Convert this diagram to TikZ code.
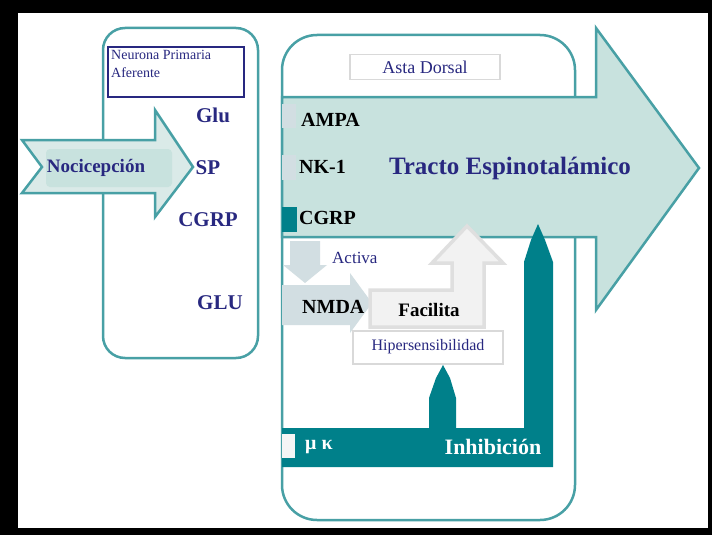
\documentclass[tikz,border=0pt]{standalone}
\usepackage{fontspec}
\setmainfont{Liberation Serif}
\definecolor{tealline}{RGB}{72,160,165}
\definecolor{tealdark}{RGB}{0,128,138}
\definecolor{tealfill}{RGB}{200,226,222}
\definecolor{tealpale}{RGB}{218,234,232}
\definecolor{navy}{RGB}{40,40,128}
\definecolor{paleg}{RGB}{210,222,226}
\begin{document}
\begin{tikzpicture}[
x=1pt, y=-1pt,
every node/.style={inner sep=0pt},
boxline/.style={draw=tealline, line width=2.5pt},
navylbl/.style={text=navy, font=\bfseries\fontsize{21}{21}\selectfont},
reclbl/.style={text=black, font=\bfseries\fontsize{20}{20}\selectfont, anchor=west},
plain/.style={text=navy, font=\fontsize{#1}{#1}\selectfont},
graybox/.style={draw=gray!30, line width=2pt, fill=white}
]
\fill[black] (0,0) rectangle (712,535);
\fill[white] (18,13) rectangle (708,528);

\draw[boxline, rounded corners=22] (103,28) rectangle (258,358);
\node[draw=navy, line width=1.5pt, minimum width=136pt, minimum height=50pt] (npa) at (176,72) {};
\node[plain=14, anchor=north west, align=left, font=\fontsize{14}{18}\selectfont] (npatxt) at (111,50) {Neurona Primaria\\Aferente};

\draw[boxline, rounded corners=35] (282,35) rectangle (575,520);
\draw[draw=tealline, line width=2.5pt, fill=tealfill] (282,97) -- (596,97) -- (596,28) -- (699,168)
    -- (596,310) -- (596,237) -- (282,237) -- cycle;
\node[graybox, line width=1.5pt, minimum width=150pt, minimum height=25pt, plain=18] (asta) at (425,67) {Asta Dorsal};

\fill[paleg] (282,104) rectangle (296,128);
\fill[paleg] (282,155) rectangle (296,180);
\fill[tealdark] (282,207) rectangle (297,232);
\node[reclbl] (ampa) at (301,120) {AMPA};
\node[reclbl] (nk) at (299,167) {NK-1};
\node[reclbl] (cgrpr) at (299,218) {CGRP};
\node[text=navy, font=\bfseries\fontsize{25}{25}\selectfont] (tracto) at (510,168) {Tracto Espinotalámico};

\fill[paleg] (290,241) -- (320,241) -- (320,265) -- (327,265) -- (305,283) -- (283,265) -- (290,265) -- cycle;
\node[plain=17, anchor=west] (activa) at (332,258) {Activa};

\fill[paleg] (282,285) -- (350,285) -- (350,273) -- (372,303) -- (350,333) -- (350,325) -- (282,325) -- cycle;
\draw[draw=gray!25, line width=3.5pt, fill=gray!10] (370,290) -- (452,290) -- (452,263) -- (432,263) -- (467,226)
    -- (503,263) -- (484,263) -- (484,327) -- (370,327) -- cycle;
\node[reclbl] (nmda) at (302,307) {NMDA};
\node[text=black, font=\bfseries\fontsize{19}{19}\selectfont] (facilita) at (429,310) {Facilita};
\node[graybox, minimum width=150pt, minimum height=33pt, plain=16] (hiper) at (428,347) {Hipersensibilidad};

\fill[tealdark] (282,428) -- (429,428) -- (429,398) -- (436,378) -- (443,365) -- (450,378) -- (456,398)
    -- (456,428) -- (524,428) -- (524,262) -- (531,240) -- (538,224) -- (545,240) -- (553,262)
    -- (553,467) -- (282,467) -- cycle;
\fill[gray!8] (282,434) rectangle (295,458);
\node[text=white, font=\bfseries\fontsize{20}{20}\selectfont, anchor=west] (mukappa) at (305,447) {μ κ};
\node[text=white, font=\bfseries\fontsize{22}{22}\selectfont] (inhib) at (493,447) {Inhibición};

\draw[draw=tealline, line width=2.5pt, fill=tealpale] (22,140) -- (155,140) -- (155,110) -- (193,167)
    -- (155,217) -- (155,193) -- (22,193) -- (42,167) -- cycle;
\fill[tealfill, rounded corners=4] (46,149) rectangle (172,187);
\node[text=navy, font=\bfseries\fontsize{19}{19}\selectfont] (noci) at (96,168) {Nocicepción};

\node[navylbl] (glu) at (213,115) {Glu};
\node[navylbl] (sp) at (208,168) {SP};
\node[navylbl] (cgrp) at (208,220) {CGRP};
\node[navylbl] (glu2) at (220,303) {GLU};
\end{tikzpicture}
\end{document}
